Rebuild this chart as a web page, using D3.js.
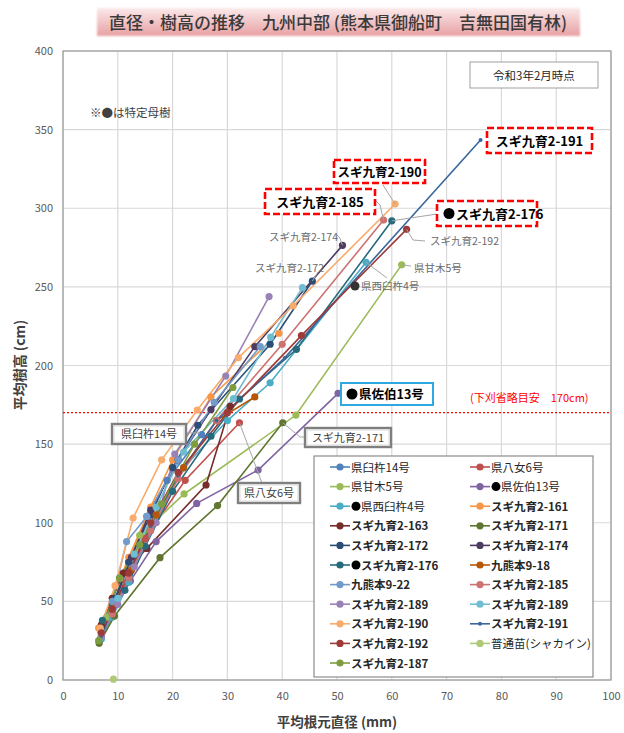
<!DOCTYPE html>
<html><head><meta charset="utf-8">
<script src="https://cdn.jsdelivr.net/npm/d3@7"></script>
<style>
body{margin:0;background:#fff;}
svg text{font-family:"Noto Sans CJK JP","Noto Sans",sans-serif;}
</style></head><body>
<svg id="c" width="624" height="733"></svg>
<script>
// ---- data ----
const seriesNames = ["県臼杵14号","県八女6号","県甘木5号","●県佐伯13号","●県西臼杵4号","スギ九育2-161","スギ九育2-163","スギ九育2-171","スギ九育2-172","スギ九育2-174","●スギ九育2-176","九熊本9-18","九熊本9-22","スギ九育2-185","スギ九育2-189","スギ九育2-189","スギ九育2-190","スギ九育2-191","スギ九育2-192","普通苗(シャカイン)","スギ九育2-187"];
const seriesColors = ["#4F81BD","#C0504D","#9BBB59","#8064A2","#4BACC6","#F79646","#772C2A","#5F7530","#2C4D75","#4D3B62","#276A7C","#B65708","#729ACA","#CD7371","#9983B5","#6FBDD1","#F9AB6B","#3A679C","#9E3B39","#AFC97A","#7E9D40"];
const diameter = [
  [7,9.5,12,15.3,19,25.3],
  [7,9,11.5,15,22.3,32.2],
  [6.8,8,10.4,14,22.1,42.5,61.8],
  [7,9,12.3,17,24.4,35.6,50.2],
  [7,9,12,16,22,30,37.8,55.3],
  [6.5,9,12,16,20,27,39.4],
  [7,9,11,15.3,26.1,30.5],
  [6.6,9.4,17.7,28.2,40.1],
  [7,9.5,12,16,20,24.6,37.8,45.5],
  [7,9.5,12.5,16,21,27,35,51],
  [7.2,9,11.3,15,20,27,32.2,42.6,60],
  [7,9.5,12.5,17,22,28,35],
  [7,9,11.6,15.3,21,27.6,36],
  [7,9,12,16,21,28,40,58.5],
  [7,10,13,17,20.4,29.7,37.6],
  [7,10,13,17,22,31.1,37.9,43.7],
  [6.8,9.5,12.8,18,24.5,32,42,60.6],
  [7,9,12,16,21,28,40.5,76.2],
  [7,9,12,16,21,30,43.5,62.7],
  [9.2],
  [6.5,10.3,14,18,24,31]
];
const heightCm = [
  [30,48,75,104,127,156],
  [27,42,62,90,127,163.6],
  [26,40,64.7,92,118.3,168.5,264],
  [28,42,63,88,112.3,133.5,182.3],
  [26,40,62,95,135,165,189,265.6],
  [33,52,78,110,140,180,220.5],
  [35,52,68,83.7,124,174],
  [23.3,40.7,77.8,110.9,163.6],
  [33,52,75,105,135,162,213.5,253.7],
  [30,50,78,108,140,172,212,276.4],
  [38,48,57,85,120,155,178.7,210.3,292],
  [30,48,70,105,135,165,180],
  [31,50,88,104,140,176.6,212],
  [28,42,65,95,128,165,213.5,292.5],
  [28,48,72,100,143.7,193.3,243.8],
  [30,52,80,110,145,179,218,249.5],
  [33,60,103,140,171.7,205,238,302.7],
  [28,45,68,98,130,165,205,343.4],
  [30,45,68,100,132,170,219,286.6],
  [0.5],
  [25,65,86,112,150,186]
];
const xTicks = [0,10,20,30,40,50,60,70,80,90,100];
const yTicks = [0,50,100,150,200,250,300,350,400];
const targetHeight = 170;

// ---- chart ----
const svg = d3.select("#c");
const x = d3.scaleLinear().domain([0,100]).range([63,611]);
const y = d3.scaleLinear().domain([0,400]).range([680,51]);

// title
const defs = svg.append("defs");
const g1 = defs.append("linearGradient").attr("id","tg").attr("x1",0).attr("y1",0).attr("x2",0).attr("y2",1);
g1.append("stop").attr("offset","0%").attr("stop-color","#FBE9EA");
g1.append("stop").attr("offset","100%").attr("stop-color","#E7A0A2");
defs.append("filter").attr("id","blur").append("feGaussianBlur").attr("stdDeviation",1.2);
svg.append("rect").attr("x",97).attr("y",8).attr("width",483).attr("height",28).attr("fill","url(#tg)").attr("filter","url(#blur)");
svg.append("text").attr("x",338).attr("y",29).attr("text-anchor","middle").attr("font-size",17).attr("fill","#3a3a3a").attr("font-weight","500")
  .text("直径・樹高の推移　九州中部 (熊本県御船町　吉無田国有林)");

// grid
svg.append("g").selectAll("line.gx").data(xTicks).join("line")
  .attr("x1",d=>x(d)).attr("x2",d=>x(d)).attr("y1",y(0)).attr("y2",y(400)).attr("stroke","#D9D9D9").attr("stroke-width",1.2);
svg.append("g").selectAll("line.gy").data(yTicks).join("line")
  .attr("y1",d=>y(d)).attr("y2",d=>y(d)).attr("x1",x(0)).attr("x2",x(100)).attr("stroke","#D9D9D9").attr("stroke-width",1.2);
svg.append("rect").attr("x",x(0)).attr("y",y(400)).attr("width",x(100)-x(0)).attr("height",y(0)-y(400))
  .attr("fill","none").attr("stroke","#9a9a9a").attr("stroke-width",1.2);

// axes
const ax = svg.append("g").attr("transform",`translate(0,${y(0)})`).call(d3.axisBottom(x).tickValues(xTicks).tickSize(0).tickPadding(12));
const ay = svg.append("g").attr("transform",`translate(${x(0)},0)`).call(d3.axisLeft(y).tickValues(yTicks).tickSize(0).tickPadding(10));
[ax,ay].forEach(a=>{a.select(".domain").remove();a.selectAll("text").attr("font-family","'Liberation Sans',Arial,sans-serif").attr("font-size",11).attr("fill","#595959");});

svg.append("text").attr("transform","translate(25,365) rotate(-90)").attr("text-anchor","middle").attr("font-size",14).attr("font-weight","bold").attr("fill","#404040").text("平均樹高 (cm)");
svg.append("text").attr("x",337).attr("y",727).attr("text-anchor","middle").attr("font-size",13.5).attr("font-weight","bold").attr("fill","#404040").text("平均根元直径 (mm)");

// target line
svg.append("line").attr("x1",x(0)).attr("x2",x(100)).attr("y1",y(targetHeight)).attr("y2",y(targetHeight))
  .attr("stroke","#FF0000").attr("stroke-width",1.2).attr("stroke-dasharray","2,2");
svg.append("text").attr("x",470).attr("y",402).attr("font-size",11).attr("fill","#FF0000").text("(下刈省略目安　170cm)");

// series
const line = d3.line().x(d=>x(d[0])).y(d=>y(d[1]));
const series = seriesNames.map((n,i)=>({name:n,color:seriesColors[i],pts:diameter[i].map((d,j)=>[d,heightCm[i][j]])}));
const sg = svg.append("g");
series.forEach((s,i)=>{
  if(s.pts.length>1) sg.append("path").attr("d",line(s.pts)).attr("fill","none").attr("stroke",s.color).attr("stroke-width",1.6);
});
series.forEach((s,i)=>{
  sg.selectAll(null).data(s.pts).join("circle").attr("cx",d=>x(d[0])).attr("cy",d=>y(d[1])).attr("r",i===17?2:3.6).attr("fill",s.color);
});

// callout helpers
function conn(pts){svg.append("polyline").attr("points",pts.map(p=>p.join(",")).join(" ")).attr("fill","none").attr("stroke","#A6A6A6").attr("stroke-width",1);}
function gtext(tx,ty,t,anchor){svg.append("text").attr("x",tx).attr("y",ty).attr("font-size",10.5).attr("fill","#6b6b6b").attr("text-anchor",anchor||"start").text(t);}
function redBox(x0,y0,w,h,t,fs){
  svg.append("rect").attr("x",x0).attr("y",y0).attr("width",w).attr("height",h).attr("fill","#fff").attr("stroke","#FF0000").attr("stroke-width",2.6).attr("stroke-dasharray","7,3");
  svg.append("text").attr("x",x0+w/2).attr("y",y0+h/2+5).attr("text-anchor","middle").attr("font-size",fs||13).attr("font-weight","bold").attr("fill","#000").text(t);
}
function greyBox(x0,y0,w,h,t,fs){
  svg.append("rect").attr("x",x0).attr("y",y0).attr("width",w).attr("height",h).attr("fill","#fff").attr("stroke","#7f7f7f").attr("stroke-width",2.4);
  svg.append("rect").attr("x",x0+2).attr("y",y0+2).attr("width",w-4).attr("height",h-4).attr("fill","none").attr("stroke","#d0d0d0").attr("stroke-width",0.8);
  svg.append("text").attr("x",x0+w/2).attr("y",y0+h/2+4).attr("text-anchor","middle").attr("font-size",fs||11).attr("fill","#404040").text(t);
}
const P=(i,k)=>{const s=series[i].pts;const p=s[k===undefined?s.length-1:k];return [x(p[0]),y(p[1])];};

// connectors
let p;
p=P(16); conn([[383,185],p]);
p=P(13); conn([[375,200],[380,205],p]);
p=P(10); conn([p,[437,214]]);
p=P(18); conn([p,[413,240],[425,241]]);
p=P(9); conn([[337,235],[340,238],p]);
p=P(8); conn([[318,272],p]);
p=P(2); conn([p,[411,266]]);
p=P(4); conn([p,[387,278]]);
p=P(1); conn([p,[262,483]]);
p=P(7); conn([p,[300,437],[305,437]]);
conn([[186,433],[200,433]]);

redBox(487,128,105,25,"スギ九育2-191");
redBox(334,160,91,23,"スギ九育2-190",12.5);
redBox(265,189,110,25,"スギ九育2-185");
redBox(437,201,100,25,"");
svg.append("circle").attr("cx",449).attr("cy",213.5).attr("r",5.5).attr("fill","#000");
svg.append("text").attr("x",456).attr("y",218.5).attr("font-size",13).attr("font-weight","bold").attr("fill","#000").text("スギ九育2-176");

// 佐伯 box
svg.append("rect").attr("x",341).attr("y",383).attr("width",92).attr("height",22).attr("fill","#fff").attr("stroke","#2DA8E0").attr("stroke-width",2);
svg.append("circle").attr("cx",352).attr("cy",394).attr("r",5.5).attr("fill","#000");
svg.append("text").attr("x",359).attr("y",399).attr("font-size",12.5).attr("font-weight","bold").attr("fill","#000").text("県佐伯13号");

gtext(269,241,"スギ九育2-174");
gtext(255,272,"スギ九育2-172");
gtext(430,245,"スギ九育2-192");
gtext(414,272,"県甘木5号");
svg.append("circle").attr("cx",355).attr("cy",286).attr("r",4.5).attr("fill","#333");
gtext(361,290,"県西臼杵4号");

greyBox(112,424,74,20,"県臼杵14号");
greyBox(238,483,62,20,"県八女6号");
greyBox(305,428,86,19,"スギ九育2-171");

// date box and note
svg.append("rect").attr("x",470).attr("y",62).attr("width",128).attr("height",26).attr("fill","#fff").attr("stroke","#a0a0a0").attr("stroke-width",1);
svg.append("text").attr("x",534).attr("y",80).attr("text-anchor","middle").attr("font-size",11.5).attr("fill","#262626").text("令和3年2月時点");
svg.append("text").attr("x",90).attr("y",117).attr("font-size",11.5).attr("fill","#404040").text("※●は特定母樹");

// legend
const lg = svg.append("g");
lg.append("rect").attr("x",314).attr("y",456).attr("width",279).attr("height",221).attr("fill","#fff").attr("stroke","#8c8c8c").attr("stroke-width",1.2);
series.forEach((s,i)=>{
  const col=i%2,row=Math.floor(i/2);
  const lx = col===0?330:470, ly = 467+row*19.6;
  lg.append("line").attr("x1",lx).attr("x2",lx+20).attr("y1",ly).attr("y2",ly).attr("stroke",s.color).attr("stroke-width",1.6);
  lg.append("circle").attr("cx",lx+10).attr("cy",ly).attr("r",i===17?2:3.6).attr("fill",s.color);
  const bold = s.name.indexOf("スギ")>=0 || s.name.indexOf("九熊本")>=0;
  let tx = lx+21;
  let name = s.name;
  if(name[0]==="●"){
    lg.append("circle").attr("cx",tx+5).attr("cy",ly).attr("r",4.5).attr("fill","#000");
    tx += 10; name = name.slice(1);
  }
  lg.append("text").attr("x",tx).attr("y",ly+4.5).attr("font-size",11.5).attr("font-weight",bold?"bold":"normal").attr("fill","#262626").text(name);
});
</script></body></html>
